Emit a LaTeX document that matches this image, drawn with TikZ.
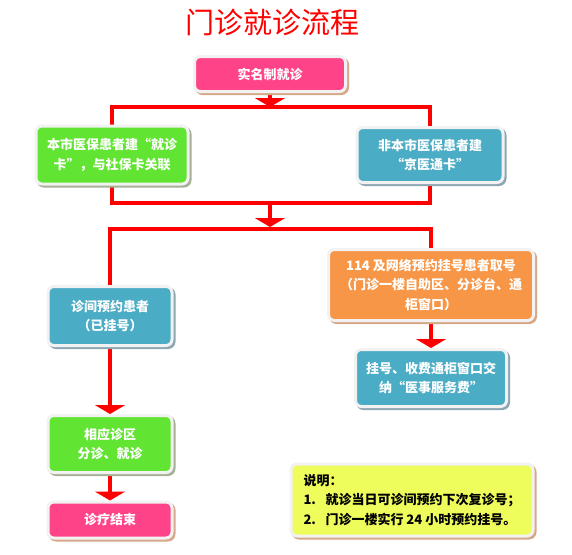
\documentclass[tikz,border=0pt]{standalone}
\usepackage{fontspec}
\setmainfont{Noto Sans CJK SC}
\usepackage{xcolor}
\definecolor{flowred}{RGB}{255,0,0}
\definecolor{flowpink}{RGB}{255,67,137}
\definecolor{flowgreen}{RGB}{98,229,50}
\definecolor{flowteal}{RGB}{75,172,198}
\definecolor{floworange}{RGB}{247,150,70}
\definecolor{flowyellow}{RGB}{239,253,92}
\definecolor{cardedge}{RGB}{242,242,242}
\definecolor{tanshade}{RGB}{214,168,136}
\definecolor{greenshade}{RGB}{166,176,150}
\definecolor{tealshade}{RGB}{140,166,178}
\usetikzlibrary{arrows.meta,shadows,backgrounds}
\newcommand{\cardfont}{\fontsize{13}{19.5}\selectfont\bfseries}
\tikzset{
  card/.style={draw=cardedge,line width=3pt,rounded corners=6pt,align=center,text=white,font=\cardfont,inner sep=0pt},
  pinkcard/.style={card,fill=flowpink,drop shadow={shadow xshift=2pt,shadow yshift=-2pt,fill=tanshade,draw=tanshade,line width=3pt,opacity=1}},
  greencard/.style={card,fill=flowgreen,drop shadow={shadow xshift=2pt,shadow yshift=-2pt,fill=greenshade,draw=greenshade,line width=3pt,opacity=1}},
  tealcard/.style={card,fill=flowteal,drop shadow={shadow xshift=2pt,shadow yshift=-2pt,fill=tealshade,draw=tealshade,line width=3pt,opacity=1}},
  orangecard/.style={card,fill=floworange,drop shadow={shadow xshift=2pt,shadow yshift=-2pt,fill=tanshade,draw=tanshade,line width=3pt,opacity=1}},
  notecard/.style={card,fill=flowyellow,text=black,align=left,drop shadow={shadow xshift=2pt,shadow yshift=-2pt,fill=tanshade,draw=tanshade,line width=3pt,opacity=1}},
  title/.style={text=flowred,font=\fontsize{29}{32}\selectfont,inner sep=0pt},
  arr/.style={-{Triangle[width=30pt,length=9pt]},line width=4pt,draw=flowred},
  line/.style={line width=4pt,draw=flowred},
}

\begin{document}
\begin{tikzpicture}[x=1pt,y=-1pt]
  \useasboundingbox (0,0) rectangle (572,554);
  \node[title] (head) at (272,22) {门诊就诊流程};
  \node[pinkcard,minimum width=151pt,minimum height=35pt] (entry) at (270,74) {实名制就诊};
  \node[greencard,minimum width=152pt,minimum height=58pt] (local) at (112,155) {本市医保患者建“就诊\\卡”，与社保卡关联};
  \node[tealcard,minimum width=146pt,minimum height=55pt] (nonlocal) at (430,155) {非本市医保患者建\\“京医通卡”};
  \node[tealcard,minimum width=124pt,minimum height=59pt] (booked) at (110,316) {诊间预约患者\\（已挂号）};
  \node[orangecard,minimum width=205pt,minimum height=71pt] (selfreg) at (431,285) {114 及网络预约挂号患者取号\\（门诊一楼自助区、分诊台、通\\柜窗口）};
  \node[tealcard,minimum width=151pt,minimum height=57pt] (fee) at (431,378) {挂号、收费通柜窗口交\\纳“医事服务费”};
  \node[greencard,minimum width=124pt,minimum height=57pt] (clinic) at (110,444) {相应诊区\\分诊、就诊};
  \node[pinkcard,minimum width=124pt,minimum height=36pt] (finish) at (110,520) {诊疗结束};
  \node[notecard,minimum width=242pt,minimum height=72pt] (note) at (412,500) {说明：\\\makebox[22pt][l]{1.}就诊当日可诊间预约下次复诊号；\\\makebox[22pt][l]{2.}门诊一楼实行~24~小时预约挂号。};
  \coordinate (bar1) at (270,107);
  \coordinate (bar2) at (270,203);
  \coordinate (bar3) at (270,229);
  \coordinate (bar3top) at (270,227);
  \begin{scope}[on background layer]
    \draw[arr] (entry.south) -- (bar1);
    \draw[line] (local.north) |- (bar1) -| (nonlocal.north);
    \draw[line] (local.south) |- (bar2) -| (nonlocal.south);
    \draw[arr] (bar2) -- (bar3top);
    \draw[line] (booked.north) |- (bar3) -| (selfreg.north);
    \draw[arr] (selfreg.south) -- (fee.north);
    \draw[arr] (booked.south) -- (clinic.north);
    \draw[arr] (clinic.south) -- (finish.north);
  \end{scope}
\end{tikzpicture}
\end{document}
